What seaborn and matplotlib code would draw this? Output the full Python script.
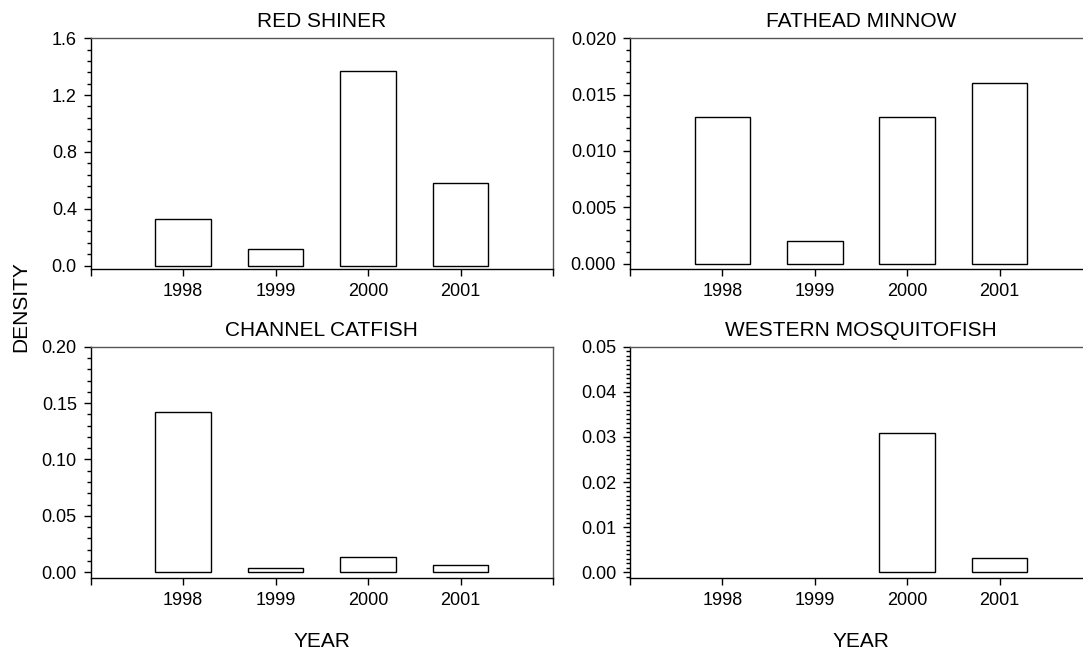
import numpy as np
import pandas as pd
import matplotlib
matplotlib.use('Agg')
import matplotlib.pyplot as plt
import seaborn as sns
from matplotlib.ticker import MultipleLocator, FormatStrFormatter

# data
years = ['1998', '1999', '2000', '2001']
red_shiner = [0.325, 0.115, 1.37, 0.584]
fathead_minnow = [0.013, 0.002, 0.013, 0.016]
channel_catfish = [0.142, 0.0035, 0.0133, 0.0065]
western_mosquitofish = [np.nan, np.nan, 0.0308, 0.0031]

titles = ['RED SHINER', 'FATHEAD MINNOW', 'CHANNEL CATFISH', 'WESTERN MOSQUITOFISH']
series = [red_shiner, fathead_minnow, channel_catfish, western_mosquitofish]
ytops = [1.6, 0.020, 0.20, 0.05]
ymajor = [0.4, 0.005, 0.05, 0.01]
yminor = [0.08, 0.001, 0.01, 0.001]
yfmt = ['%.1f', '%.3f', '%.2f', '%.2f']
ypad = [0.015, 0.024, 0.024, 0.024]

sns.set_style('ticks')
plt.rcParams['font.family'] = ['Liberation Sans', 'DejaVu Sans']
plt.rcParams['text.color'] = 'black'
plt.rcParams['axes.labelcolor'] = 'black'

W, H = 1083, 654
fig = plt.figure(figsize=(W / 100, H / 100), dpi=100)

# axes boxes in pixels: left, top, right, bottom
boxes = [(90.7, 38.3, 553, 269), (630, 38.3, 1092, 269),
         (90.7, 346.7, 553, 577.7), (630, 346.7, 1092, 577.7)]

for i in range(4):
    l, t, r, b = boxes[i]
    ax = fig.add_axes([l / W, 1 - b / H, (r - l) / W, (b - t) / H])
    df = pd.DataFrame({'year': years, 'density': series[i]})
    sns.barplot(data=df, x='year', y='density', order=years, ax=ax,
                color='white', saturation=1, edgecolor='black',
                linewidth=1, width=0.6, errorbar=None)
    ax.set_xlim(-1, 4)
    ax.set_xticks(range(-1, 5))
    ax.set_xticklabels([''] + years + [''])
    ax.yaxis.set_major_locator(MultipleLocator(ymajor[i]))
    ax.yaxis.set_minor_locator(MultipleLocator(yminor[i]))
    ax.yaxis.set_major_formatter(FormatStrFormatter(yfmt[i]))
    ax.set_ylim(-ypad[i] * ytops[i], ytops[i])
    ax.tick_params(axis='both', which='major', length=5, width=1, labelsize=13,
                   color='black', labelcolor='black', direction='out')
    ax.tick_params(axis='x', pad=5)
    ax.tick_params(axis='y', pad=5)
    ax.tick_params(axis='y', which='minor', length=3, width=1, color='black')
    ax.tick_params(axis='x', which='minor', bottom=False)
    for side in ['left', 'bottom']:
        ax.spines[side].set_color('black')
        ax.spines[side].set_linewidth(1)
    for side in ['top', 'right']:
        ax.spines[side].set_visible(True)
        ax.spines[side].set_color('#555555')
        ax.spines[side].set_linewidth(1)
    ax.set_title(titles[i], fontsize=15, pad=8, color='black')
    ax.set_ylabel('')
    if i >= 2:
        ax.set_xlabel('YEAR', fontsize=15, labelpad=17)
    else:
        ax.set_xlabel('')

fig.text(21 / W, 1 - 307 / H, 'DENSITY', rotation=90, fontsize=15,
         ha='center', va='center')

fig.savefig('out.png', dpi=100)
